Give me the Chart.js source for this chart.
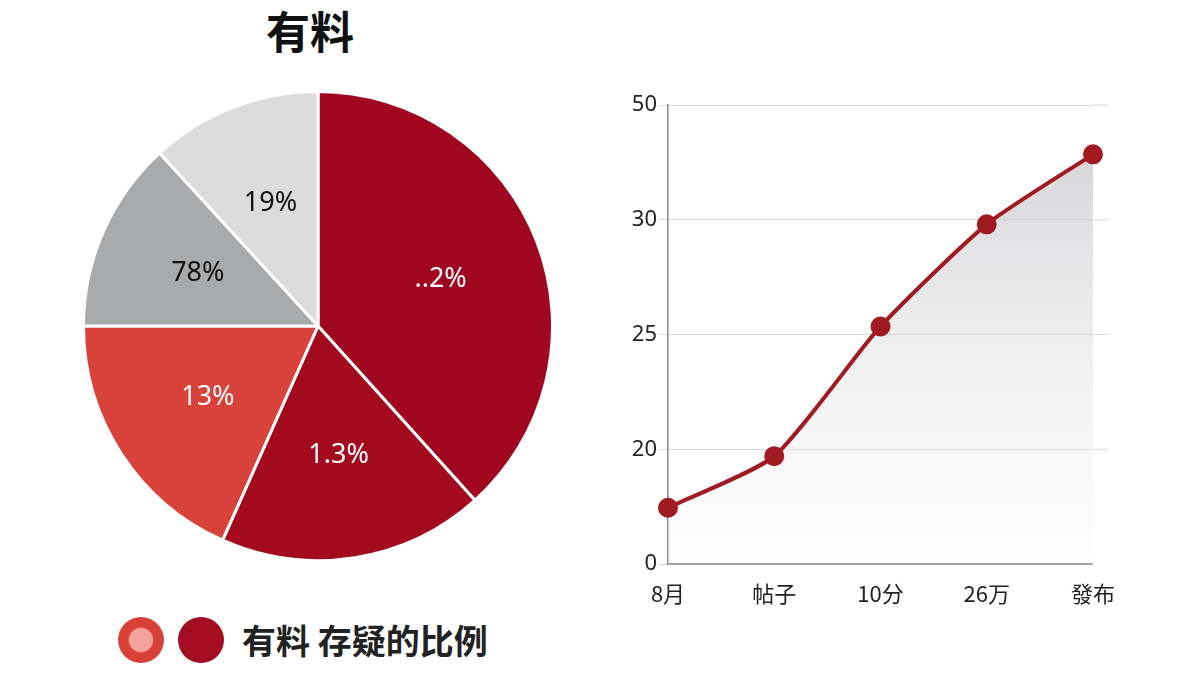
<!DOCTYPE html>
<html><head><meta charset="utf-8">
<script src="https://cdn.jsdelivr.net/npm/chart.js@4"></script>
<style>
body{margin:0;width:1200px;height:675px;background:#fff;font-family:"Noto Sans CJK SC","Noto Sans",sans-serif;position:relative;overflow:hidden}
#t{position:absolute;left:210px;top:-2px;width:200px;text-align:center;font-size:44px;font-weight:bold;color:#111}
#pw{position:absolute;left:82px;top:90px;width:472px;height:472px}
#lw{position:absolute;left:600px;top:80px;width:523px;height:536px}
#lg{position:absolute;left:118px;top:615px;display:flex;align-items:center;font-size:34px;font-weight:bold;color:#222}
.c{width:46px;height:46px;border-radius:50%;margin-right:14px}
</style></head><body>
<div id="t">有料</div>
<div id="pw"><canvas id="p"></canvas></div>
<div id="lw"><canvas id="l"></canvas></div>
<div id="lg"><div class="c" style="background:radial-gradient(circle,#f5a39a 0 35%,#d9403a 40%)"></div><div class="c" style="background:#a30d1f"></div><span style="margin-left:4px">有料 存疑的比例</span></div>
<script>
const pieValues=[138,66,66,47.5,42.5];
const pieLabels=['..2%','1.3%','13%','78%','19%'];
const pieColors=['#a0061f','#a30a1e','#d9413b','#a9aaac','#dcdcdd'];
const pieLabelColors=['#fff','#fff','#fff','#111','#111'];
const lineCats=['8月','帖子','10分','26万','發布'];
const lineValues=[0.49,0.94,2.07,2.96,3.57];
const yTickLabels=['0','20','25','30','50'];

const lblPlugin={id:'lbl',afterDatasetsDraw(c){const ctx=c.ctx;c.getDatasetMeta(0).data.forEach((a,i)=>{const m=(a.startAngle+a.endAngle)/2,r=a.outerRadius*0.56;ctx.save();ctx.font='27px "Noto Sans", sans-serif';ctx.fillStyle=pieLabelColors[i];ctx.textAlign='center';ctx.textBaseline='middle';ctx.fillText(pieLabels[i],a.x+Math.cos(m)*r,a.y+Math.sin(m)*r);ctx.restore();});}};
new Chart(document.getElementById('p'),{type:'pie',data:{labels:pieLabels,datasets:[{data:pieValues,backgroundColor:pieColors,borderColor:'#fff',borderWidth:3}]},options:{responsive:true,maintainAspectRatio:false,animation:false,plugins:{legend:{display:false},tooltip:{enabled:false}}},plugins:[lblPlugin]});

const gridExt={id:'gx',beforeDatasetsDraw(c){const y=c.scales.y,a=c.chartArea,ctx=c.ctx;ctx.save();ctx.strokeStyle='#d8d8d8';ctx.lineWidth=1;y.ticks.forEach(t=>{const p=y.getPixelForValue(t.value);if(t.value>0){ctx.beginPath();ctx.moveTo(a.right,p);ctx.lineTo(a.right+15,p);ctx.stroke();}});ctx.restore();}};
new Chart(document.getElementById('l'),{type:'line',data:{labels:lineCats,datasets:[{data:lineValues,borderColor:'#a01a22',borderWidth:4,pointRadius:8,pointBackgroundColor:'#a01a22',pointBorderColor:'#a01a22',tension:0.2,fill:'origin',backgroundColor:(ctx)=>{const ch=ctx.chart,a=ch.chartArea;if(!a)return'#eee';const g=ch.ctx.createLinearGradient(0,a.top,0,a.bottom);g.addColorStop(0,'rgba(190,190,195,0.75)');g.addColorStop(1,'rgba(245,245,245,0.2)');return g;}}]},
options:{responsive:true,maintainAspectRatio:false,animation:false,layout:{padding:{top:25,right:15}},plugins:{legend:{display:false},tooltip:{enabled:false}},
scales:{x:{offset:false,grid:{display:false},border:{color:'#888',width:1.5},ticks:{color:'#222',padding:8,font:{size:22,family:'"Noto Sans CJK SC"'}},afterFit(s){s.height=52}},
y:{min:0,max:4,ticks:{stepSize:1,color:'#222',font:{size:22,family:'"Noto Sans"'},callback:v=>yTickLabels[v]},grid:{color:'#d8d8d8'},border:{color:'#888',width:1.5},afterFit(s){s.width=68}}}},plugins:[gridExt]});
</script></body></html>
